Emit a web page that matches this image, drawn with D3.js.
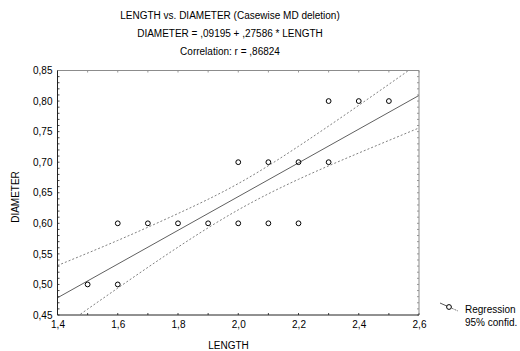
<!DOCTYPE html>
<html>
<head>
<meta charset="utf-8">
<script src="https://cdn.jsdelivr.net/npm/d3@7"></script>
<style>
  body { margin: 0; background: #fff; }
  svg { display: block; font-family: "Liberation Sans", Arial, sans-serif; }
</style>
</head>
<body>
<svg id="chart" width="520" height="351"></svg>
<script>
// observed cases (LENGTH, DIAMETER)
const lengths   = [1.5, 1.6, 1.6, 1.7, 1.8, 1.9, 2.0, 2.0, 2.1, 2.1, 2.2, 2.2, 2.3, 2.3, 2.4, 2.5];
const diameters = [0.5, 0.6, 0.5, 0.6, 0.6, 0.6, 0.7, 0.6, 0.7, 0.6, 0.7, 0.6, 0.8, 0.7, 0.8, 0.8];

// regression coefficients from the title
const intercept = 0.09195;
const slope = 0.27586;

// 95% confidence band
const bandX     = [1.4,   1.6,   1.8,   2.0,   2.2,   2.4,   2.6];
const bandUpper = [0.531, 0.572, 0.616, 0.665, 0.726, 0.793, 0.862];
const bandLower = [0.425, 0.494, 0.561, 0.622, 0.672, 0.715, 0.756];

const xTicks = [1.4, 1.6, 1.8, 2.0, 2.2, 2.4, 2.6];
const yTicks = [0.45, 0.50, 0.55, 0.60, 0.65, 0.70, 0.75, 0.80, 0.85];

const titleLines = [
  'LENGTH vs. DIAMETER (Casewise MD deletion)',
  'DIAMETER = ,09195 + ,27586 * LENGTH',
  'Correlation: r = ,86824'
];

const margin = { top: 70.5, right: 101, bottom: 36, left: 57.5 };
const width = 520, height = 351;
const w = width - margin.left - margin.right;
const h = height - margin.top - margin.bottom;
const fontSize = '10px';

const svg = d3.select('#chart');
const g = svg.append('g').attr('transform', `translate(${margin.left},${margin.top})`);

const x = d3.scaleLinear().domain([1.4, 2.6]).range([0, w]);
const y = d3.scaleLinear().domain([0.45, 0.85]).range([h, 0]);

const comma = (v, digits) => v.toFixed(digits).replace('.', ',');

// titles
svg.append('g').selectAll('text')
  .data(titleLines).join('text')
  .attr('x', 230)
  .attr('y', (d, i) => 18.6 + i * 18.4)
  .attr('text-anchor', 'middle')
  .attr('font-size', fontSize)
  .attr('fill', '#000')
  .text(d => d);

svg.append('clipPath').attr('id', 'plot-clip')
  .append('rect').attr('width', w).attr('height', h);

const plot = g.append('g').attr('clip-path', 'url(#plot-clip)');

// confidence band
const bandLine = (vals) => d3.line()
  .x((d, i) => x(bandX[i]))
  .y(d => y(d))
  .curve(d3.curveNatural)(vals);

[bandUpper, bandLower].forEach(vals => {
  plot.append('path')
    .attr('d', bandLine(vals))
    .attr('fill', 'none')
    .attr('stroke', '#808080')
    .attr('stroke-width', 1)
    .attr('stroke-dasharray', '2,2');
});

// regression line
plot.append('line')
  .attr('x1', x(1.4)).attr('y1', y(intercept + slope * 1.4))
  .attr('x2', x(2.6)).attr('y2', y(intercept + slope * 2.6))
  .attr('stroke', '#606060')
  .attr('stroke-width', 1);

// points
g.append('g').selectAll('circle')
  .data(lengths.map((l, i) => [l, diameters[i]]))
  .join('circle')
  .attr('cx', d => x(d[0]))
  .attr('cy', d => y(d[1]))
  .attr('r', 2.4)
  .attr('fill', 'none')
  .attr('stroke', '#000')
  .attr('stroke-width', 1);

// axes: labels from d3 axes, inward ticks drawn separately
const yMinor = d3.range(0.45, 0.8501, 0.01);
const xMinor = d3.range(1.4, 2.6001, 0.1);

g.append('g')
  .call(d3.axisLeft(y).tickValues(yTicks).tickSize(0).tickPadding(5).tickFormat(d => comma(d, 2)))
  .call(a => a.select('.domain').remove())
  .selectAll('text').attr('font-size', fontSize).attr('font-family', 'Liberation Sans, Arial, sans-serif').attr('fill', '#000');

g.append('g')
  .attr('transform', `translate(0,${h})`)
  .call(d3.axisBottom(x).tickValues(xTicks).tickSize(0).tickPadding(6).tickFormat(d => comma(d, 1)))
  .call(a => a.select('.domain').remove())
  .selectAll('text').attr('font-size', fontSize).attr('font-family', 'Liberation Sans, Arial, sans-serif').attr('fill', '#000');

const ticks = g.append('g').attr('stroke', '#444').attr('stroke-width', 1);
yMinor.forEach(v => {
  ticks.append('line').attr('x1', 0).attr('x2', 2).attr('y1', y(v)).attr('y2', y(v));
  ticks.append('line').attr('x1', w).attr('x2', w - 2).attr('y1', y(v)).attr('y2', y(v)).attr('stroke', '#999');
});
xMinor.forEach(v => {
  ticks.append('line').attr('x1', x(v)).attr('x2', x(v)).attr('y1', h).attr('y2', h - 2);
  ticks.append('line').attr('x1', x(v)).attr('x2', x(v)).attr('y1', 0).attr('y2', 2).attr('stroke', '#999');
});

// frame
g.append('line').attr('x1', 0).attr('x2', w).attr('y1', 0).attr('y2', 0).attr('stroke', '#8c8c8c');
g.append('line').attr('x1', w).attr('x2', w).attr('y1', 0).attr('y2', h).attr('stroke', '#8c8c8c');
g.append('line').attr('x1', 0).attr('x2', 0).attr('y1', 0).attr('y2', h).attr('stroke', '#222');
g.append('line').attr('x1', 0).attr('x2', w).attr('y1', h).attr('y2', h).attr('stroke', '#222');

// axis titles
svg.append('text')
  .attr('x', 228.5).attr('y', 349)
  .attr('text-anchor', 'middle')
  .attr('font-size', fontSize)
  .text('LENGTH');

svg.append('text')
  .attr('transform', 'translate(19,197) rotate(-90)')
  .attr('text-anchor', 'middle')
  .attr('font-size', fontSize)
  .text('DIAMETER');

// legend
const lg = svg.append('g').attr('transform', 'translate(440,303)');
lg.append('line').attr('x1', 0).attr('y1', 0).attr('x2', 9).attr('y2', 4).attr('stroke', '#555');
lg.append('line').attr('x1', 9).attr('y1', 4).attr('x2', 18).attr('y2', 8)
  .attr('stroke', '#777').attr('stroke-dasharray', '2,1');
lg.append('circle').attr('cx', 9).attr('cy', 4).attr('r', 2.4)
  .attr('fill', '#fff').attr('stroke', '#000');
lg.append('text').attr('x', 25).attr('y', 10).attr('font-size', fontSize).text('Regression');
lg.append('text').attr('x', 25).attr('y', 22.5).attr('font-size', fontSize).text('95% confid.');
</script>
</body>
</html>
